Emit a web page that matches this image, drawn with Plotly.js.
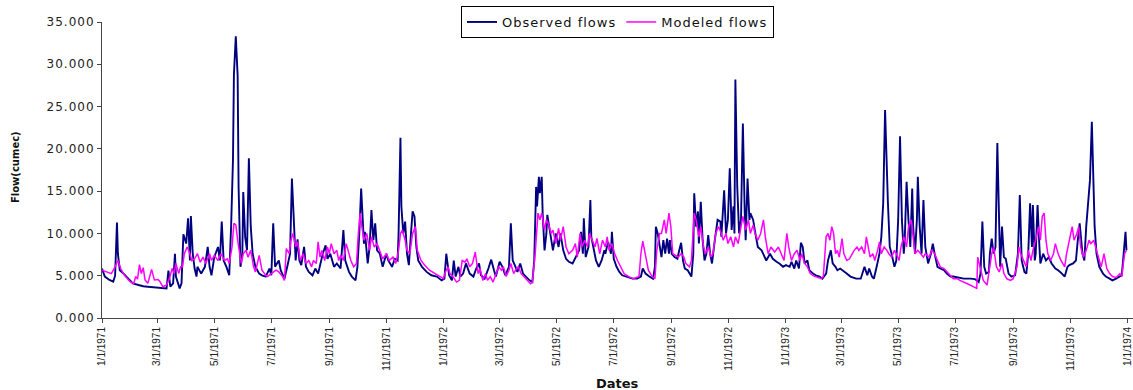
<!DOCTYPE html>
<html>
<head>
<meta charset="utf-8">
<script src="https://cdn.plot.ly/plotly-3.0.1.min.js"></script>
<style>
  html, body { margin: 0; padding: 0; background: #fff; }
  #chart { width: 1133px; height: 390px; }
  .ytick text { letter-spacing: 1px; }
  .legendtext { letter-spacing: 1px; }
</style>
</head>
<body>
<div id="chart"></div>
<script>
// Day offsets from 1 Jan 1971 and flows (thousands, shown as "x.000")
const obsDay = [0,3,8,12,14,16,17,19,23,28,33,39,44,49,56,63,69,71,73,76,78,79,83,85,87,90,92,94,95,97,99,101,102,106,110,113,115,117,120,124,126,128,130,133,136,138,140,141,143,145,146,148,150,151,153,155,157,159,161,164,168,171,175,
179,181,183,185,187,189,191,193,195,198,201,203,205,207,209,211,213,216,218,221,225,228,231,234,236,239,241,244,248,251,255,258,260,264,267,271,273,275,277,280,281,284,286,288,290,292,294,297,300,304,306,310,313,316,317,319,320,322,324,326,328,330,332,334,336,338,342,347,352,358,363,366,368,
371,374,376,378,381,383,386,389,393,397,400,403,405,409,413,416,419,421,425,428,431,435,437,439,442,444,447,450,453,457,460,462,464,465,467,468,470,471,473,475,476,478,480,482,485,488,490,493,496,499,503,506,510,512,514,515,517,520,522,523,526,528,531,534,537,538,541,544,545,547,550,
553,556,561,567,572,576,578,581,585,589,591,592,594,596,598,600,602,604,606,607,609,612,615,617,619,621,623,626,630,632,633,635,637,638,640,642,644,646,648,650,652,655,658,661,662,665,667,669,671,673,675,676,677,679,681,683,685,687,688,690,692,693,696,699,701,705,708,710,714,717,721,724,728,731,735,
737,740,742,745,747,749,751,754,756,760,763,767,770,774,776,779,781,784,786,789,793,796,800,806,811,815,818,820,823,825,828,831,833,835,837,839,840,842,844,847,849,851,853,855,857,858,860,862,864,866,867,869,871,872,874,876,878,880,883,886,888,890,893,896,900,903,907,910,914,918,
921,928,933,937,939,941,943,945,948,949,951,953,955,957,959,960,962,964,966,969,972,976,979,981,983,986,988,990,992,994,995,997,998,1000,1002,1003,1006,1009,1012,1015,1019,1022,1026,1029,1032,1034,1038,1041,1043,1045,1048,1050,1052,1054,1056,1058,1059,1061,1063,1066,1070,1073,1077,1080,1084,1088,1090,1092,1094,1095];

const obsFlow = [5.85,4.9,4.5,4.3,5.0,11.3,7.6,5.65,5.25,4.7,4.1,3.9,3.75,3.7,3.6,3.5,3.5,5.6,3.7,4.1,7.6,4.9,3.5,4.1,9.9,8.8,11.8,6.8,12.05,7.6,5.85,4.9,6.05,5.25,6.05,8.4,6.05,5.05,7.2,8.4,6.8,11.4,6.8,6.05,5.05,10.8,18.7,28.8,33.3,28.6,15.5,6.05,7.6,14.9,9.6,8.0,18.9,10.8,7.6,6.05,5.25,5.05,4.9,
5.85,5.05,11.2,6.05,6.45,6.8,5.65,5.05,4.65,6.05,7.6,16.5,11.6,6.8,9.3,6.8,6.25,8.4,6.05,5.45,5.05,5.85,5.25,6.8,7.6,8.6,7.0,7.6,6.05,6.45,5.85,10.4,6.8,5.45,4.9,4.45,6.05,10.0,15.3,8.8,10.2,6.45,8.4,12.75,9.2,11.2,8.0,7.6,6.05,7.6,6.8,6.05,7.0,6.8,10.0,21.3,13.2,10.0,11.4,7.6,6.25,9.6,12.6,12.0,8.4,6.8,6.05,5.45,5.05,4.9,4.45,4.65,7.6,
5.05,4.45,6.8,4.9,6.05,4.9,5.25,6.45,5.25,4.9,5.85,6.45,5.05,4.65,5.85,6.9,5.65,4.9,6.65,6.05,5.05,6.05,11.2,6.8,6.05,5.45,6.45,5.25,4.9,4.45,4.25,6.8,15.5,13.2,16.7,14.75,16.7,12.4,8.0,10.0,12.2,10.8,9.6,8.0,10.0,8.4,10.0,8.0,7.0,6.65,6.45,7.2,8.0,10.2,7.6,11.8,7.2,8.4,13.95,9.6,7.6,6.8,6.05,6.8,8.0,7.6,9.0,7.6,10.2,7.0,6.05,
5.45,5.05,4.9,4.65,4.65,4.9,5.85,5.25,4.9,4.65,6.05,10.8,10.0,8.4,7.2,9.2,7.6,9.4,7.6,9.2,7.6,7.2,7.0,8.0,8.9,6.8,5.85,5.65,4.9,7.6,14.75,10.8,12.6,8.8,13.75,9.2,6.8,7.6,9.8,7.6,6.45,9.2,11.6,11.4,9.6,15.1,10.0,11.6,17.7,10.4,13.2,10.0,28.2,15.5,10.0,11.6,23.0,12.4,9.2,16.5,11.6,12.4,11.6,9.6,8.4,8.0,7.2,6.8,7.6,7.0,6.65,6.45,6.05,6.25,6.05,
6.65,5.85,6.8,5.85,8.9,8.4,6.45,6.8,5.65,5.25,5.05,4.9,4.65,5.25,6.8,8.0,6.45,6.05,5.65,5.85,5.45,5.25,4.9,4.65,4.65,6.05,5.05,5.85,4.9,4.65,6.05,7.6,9.6,13.55,24.6,15.5,13.75,8.4,7.6,6.05,6.8,11.6,21.5,11.6,7.6,9.2,16.1,11.6,8.4,15.3,10.8,7.6,11.6,16.7,10.8,7.6,13.95,8.4,6.45,7.6,8.8,7.6,6.05,5.85,5.65,5.25,4.9,4.9,4.8,4.65,
4.65,4.65,4.6,4.25,5.25,11.4,6.05,5.25,5.45,7.6,9.4,7.6,8.4,20.7,7.6,6.05,10.8,7.2,7.0,5.25,4.9,5.05,7.6,14.55,6.8,5.45,5.25,7.6,13.55,8.4,13.35,6.8,7.6,13.35,8.4,6.45,7.6,6.8,7.2,6.45,5.85,5.65,5.25,4.9,6.05,6.25,6.45,6.8,9.2,11.2,7.6,6.8,10.8,13.2,16.3,23.2,18.3,10.8,7.6,6.05,5.25,4.9,4.65,4.45,4.65,4.9,5.05,7.6,10.2,8.0];

const modDay = [0,5,10,14,17,20,24,30,34,36,38,40,42,44,46,49,53,56,60,62,65,69,72,75,77,79,82,84,86,88,91,94,96,99,102,105,108,111,115,117,120,124,127,131,134,136,139,141,143,146,149,151,154,156,159,162,164,168,171,175,
177,181,186,189,193,195,197,200,202,204,207,209,212,215,218,221,224,226,229,231,233,235,238,241,243,245,248,251,253,255,258,261,264,266,269,272,274,276,278,280,283,286,288,291,294,297,300,304,307,311,314,317,319,321,324,326,329,332,335,337,341,345,350,356,361,365,367,370,
372,375,379,382,385,388,390,393,396,399,402,404,407,410,412,415,418,421,424,427,429,432,435,437,440,443,445,448,451,455,458,460,463,466,468,470,473,475,477,480,482,485,488,490,493,496,499,503,506,508,511,513,516,519,521,524,527,529,532,535,538,540,542,545,548,551,
558,563,568,574,576,578,581,584,588,591,593,596,598,601,603,606,608,610,613,616,619,622,624,628,630,633,635,638,640,643,645,648,651,653,656,659,662,664,667,669,672,675,677,680,683,685,688,691,693,696,698,701,704,707,709,712,715,719,723,726,729,732,734,
737,740,743,746,748,751,754,757,761,766,769,771,774,776,778,780,782,784,786,788,791,793,796,799,802,804,807,809,812,815,817,819,821,824,826,829,831,833,836,839,841,844,847,849,852,854,857,860,862,865,867,869,872,875,878,880,884,887,890,893,896,900,903,907,910,914,
917,925,932,935,936,939,942,946,949,951,953,956,959,962,964,967,971,974,978,980,982,985,988,990,993,995,998,1001,1003,1005,1007,1009,1011,1014,1017,1019,1022,1025,1029,1031,1034,1037,1039,1042,1044,1046,1049,1052,1055,1057,1060,1063,1066,1068,1071,1074,1077,1080,1084,1088,1090,1093,1095];

const modFlow = [5.65,5.45,5.25,6.05,6.8,5.85,5.05,4.3,4.1,4.9,4.6,6.3,5.25,5.95,4.5,4.1,5.75,4.5,4.55,4.3,3.7,3.9,4.65,5.85,5.25,6.45,5.25,6.05,6.05,7.6,8.4,7.6,6.8,7.0,7.6,6.6,7.2,6.45,7.6,6.8,7.4,6.8,7.6,6.8,7.0,6.45,8.4,11.2,11.0,8.4,6.45,7.6,8.0,7.2,8.0,6.05,5.45,7.4,5.65,5.05,
4.9,5.25,5.65,5.45,4.9,4.45,8.2,7.6,9.2,10.0,8.4,9.0,6.8,7.6,6.45,6.8,6.05,6.8,6.45,9.0,7.2,8.0,6.8,8.4,7.6,8.8,7.6,8.0,6.8,7.4,6.8,8.8,7.6,6.8,6.05,6.45,10.0,12.4,10.6,9.2,10.0,8.0,9.6,8.4,8.8,8.0,7.0,7.6,6.8,7.2,6.45,8.0,10.0,10.4,9.2,8.0,7.6,10.0,10.8,8.0,6.8,6.25,5.65,5.25,4.9,4.65,5.45,6.05,
5.25,4.9,4.25,4.45,6.8,6.6,7.0,6.05,6.45,7.8,5.25,5.85,4.45,5.25,4.45,4.9,4.25,5.25,6.05,5.65,6.05,4.9,5.65,6.45,5.25,5.85,6.05,5.25,4.9,4.45,4.05,4.25,7.6,12.4,11.6,12.4,10.4,11.6,11.2,10.0,10.4,8.8,10.6,9.2,10.8,8.4,7.6,8.0,8.8,7.2,10.0,8.4,9.2,8.4,10.0,9.2,8.4,9.4,7.6,9.2,8.4,9.6,8.0,8.8,7.6,6.8,
5.25,4.9,4.65,4.9,7.6,9.1,7.2,5.65,4.9,4.65,8.0,10.0,10.0,11.6,10.0,12.4,10.8,7.6,7.4,7.2,7.6,7.2,6.45,6.05,6.8,12.4,11.6,9.6,10.8,8.4,7.6,8.4,7.2,7.6,10.0,10.8,10.0,9.2,10.0,8.8,9.6,8.4,9.6,8.8,10.8,12.0,10.4,11.6,10.0,11.0,10.0,9.2,10.0,11.6,9.6,7.6,8.4,7.8,8.4,7.6,6.8,10.0,8.4,
6.8,7.6,8.0,6.8,7.6,6.45,6.05,5.25,4.95,4.8,4.65,4.9,9.6,10.0,9.2,10.8,10.0,7.6,8.0,7.2,9.4,7.6,6.8,7.0,7.6,8.0,8.4,8.0,8.4,7.6,9.6,8.4,7.2,7.6,6.8,8.0,9.0,7.6,8.4,8.0,7.6,7.2,8.0,7.6,6.8,8.4,9.6,8.4,10.8,11.6,9.6,7.6,8.0,7.6,7.2,7.6,7.2,8.0,7.6,6.8,6.05,5.85,5.45,5.05,4.65,4.65,
4.45,4.05,3.7,3.5,7.2,5.65,4.45,3.9,6.05,7.6,8.4,6.05,5.45,6.45,5.25,4.65,4.45,4.65,6.05,8.4,7.6,6.8,6.05,8.0,6.8,8.0,9.2,10.8,9.2,12.0,12.4,9.2,7.6,6.8,7.6,8.8,7.6,6.8,6.05,7.6,9.2,10.8,9.2,10.0,10.8,8.4,7.2,8.0,9.2,8.8,9.2,8.0,6.8,6.05,7.6,5.85,5.25,4.9,4.8,5.25,4.9,7.6,8.0];

const tickLabels = ["1/1/1971","3/1/1971","5/1/1971","7/1/1971","9/1/1971","11/1/1971",
  "1/1/1972","3/1/1972","5/1/1972","7/1/1972","9/1/1972","11/1/1972",
  "1/1/1973","3/1/1973","5/1/1973","7/1/1973","9/1/1973","11/1/1973","1/1/1974"];

const seriesNames = ["Observed flows", "Modeled flows"];

const base = Date.UTC(1971, 0, 1);
const toDate = d => new Date(base + d * 86400000).toISOString().slice(0, 10);
const labelToISO = s => {
  const [m, d, y] = s.split("/").map(Number);
  return new Date(Date.UTC(y, m - 1, d)).toISOString().slice(0, 10);
};

const traces = [
  { x: obsDay.map(toDate), y: obsFlow, type: "scatter", mode: "lines", name: seriesNames[0],
    line: { color: "#000080", width: 1.9 } },
  { x: modDay.map(toDate), y: modFlow, type: "scatter", mode: "lines", name: seriesNames[1],
    line: { color: "#FF00FF", width: 1.5 } }
];

const layout = {
  width: 1133, height: 390,
  margin: { l: 102, r: 0, t: 22, b: 72, pad: 0 },
  paper_bgcolor: "#ffffff", plot_bgcolor: "#ffffff",
  showlegend: true,
  legend: {
    orientation: "h", x: 0.5, xanchor: "center", y: 1.054, yanchor: "top",
    bgcolor: "#ffffff", bordercolor: "#000000", borderwidth: 1,
    font: { family: "DejaVu Sans, sans-serif", size: 13, color: "#111" },
    itemwidth: 30, tracegroupgap: 0
  },
  xaxis: {
    type: "date",
    range: [labelToISO(tickLabels[0]), "1974-01-07"],
    tickmode: "array",
    tickvals: tickLabels.map(labelToISO),
    ticktext: tickLabels,
    tickangle: -90,
    ticklabeloverflow: "allow",
    ticks: "outside", ticklen: 4, tickcolor: "#444", tickwidth: 1,
    showline: true, linecolor: "#444", linewidth: 1,
    showgrid: false, zeroline: false, automargin: false,
    tickfont: { family: "Liberation Sans, Arial, sans-serif", size: 10, color: "#222" }
  },
  yaxis: {
    range: [0, 35], dtick: 5, tick0: 0, tickformat: ".3f",
    ticks: "outside", ticklen: 4, tickcolor: "#444", tickwidth: 1,
    showline: true, linecolor: "#444", linewidth: 1,
    showgrid: false, zeroline: false, automargin: false,
    tickfont: { family: "DejaVu Sans, sans-serif", size: 12, color: "#222" }
  },
  annotations: [
    { text: "Dates", xref: "paper", yref: "paper", x: 0.5, y: -0.2196,
      xanchor: "center", yanchor: "middle", showarrow: false,
      font: { family: "DejaVu Sans, sans-serif", size: 13, color: "#111", weight: "bold" } },
    { text: "Flow(cumec)", xref: "paper", yref: "paper", x: -0.0844, y: 0.51,
      xanchor: "center", yanchor: "middle", showarrow: false, textangle: -90,
      font: { family: "DejaVu Sans, sans-serif", size: 10, color: "#111", weight: "bold" } }
  ]
};

Plotly.newPlot("chart", traces, layout, { displayModeBar: false, staticPlot: true });
</script>
</body>
</html>
